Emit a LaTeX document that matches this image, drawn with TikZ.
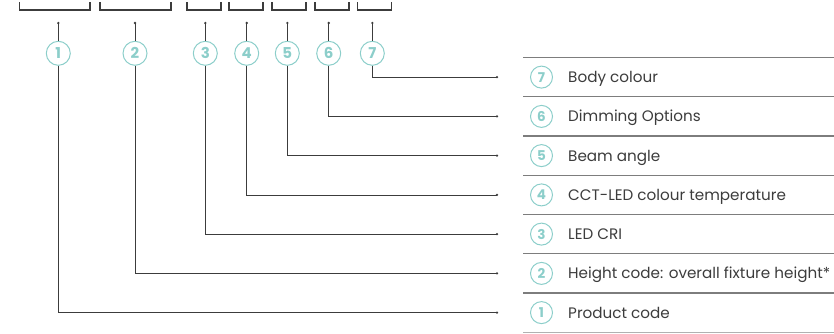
\documentclass[tikz,border=0pt]{standalone}
\usepackage{fontspec}
\setmainfont{Poppins}
\usetikzlibrary{positioning}
\definecolor{keyteal}{RGB}{140,206,202}
\definecolor{keytext}{RGB}{60,60,60}
\definecolor{rulegray}{RGB}{125,125,125}
\tikzstyle{keynum} = [circle, draw=keyteal, line width=1pt,
                      minimum size=24pt, inner sep=0pt, text=keyteal,
                      font=\fontsize{15}{15}\selectfont\bfseries]
\tikzstyle{rownum} = [keynum, minimum size=22pt,
                      font=\fontsize{13.5}{13.5}\selectfont\bfseries]
\tikzstyle{rowtext} = [anchor=base west, inner sep=0pt, text=keytext,
                       font=\fontsize{15.2}{15.2}\selectfont]
\tikzstyle{wire} = [line width=0.8pt, draw=keytext]
\tikzstyle{bracket} = [line width=1.1pt, draw=keytext]
\tikzstyle{rowline} = [line width=1.2pt, draw=rulegray]

\begin{document}
\begin{tikzpicture}[x=1pt, y=-1pt]
    \useasboundingbox (0,0) rectangle (834,333);

    %Code brackets
    \draw [bracket] (19.5,2) -- (19.5,10) -- (90,10) -- (90,2);
    \draw [bracket] (100,2) -- (100,10) -- (171,10) -- (171,2);
    \draw [bracket] (187,2) -- (187,10) -- (221,10) -- (221,2);
    \draw [bracket] (229,2) -- (229,10) -- (263,10) -- (263,2);
    \draw [bracket] (272,2) -- (272,10) -- (306,10) -- (306,2);
    \draw [bracket] (315,2) -- (315,10) -- (349,10) -- (349,2);
    \draw [bracket] (357.5,2) -- (357.5,10) -- (391.5,10) -- (391.5,2);

    %Key numbers
    \node (K1) [keynum] at (58.3,53.3) {1};
    \node (K2) [keynum] at (135,53.3) {2};
    \node (K3) [keynum] at (205.3,53.3) {3};
    \node (K4) [keynum] at (246.7,53.3) {4};
    \node (K5) [keynum] at (287.3,53.3) {5};
    \node (K6) [keynum] at (328.7,53.3) {6};
    \node (K7) [keynum] at (372.3,53.3) {7};

    %Dots under the brackets
    \coordinate (D1) at (58.3,23);
    \coordinate (D2) at (135,23);
    \coordinate (D3) at (205.3,23);
    \coordinate (D4) at (246.7,23);
    \coordinate (D5) at (287.3,23);
    \coordinate (D6) at (328.7,23);
    \coordinate (D7) at (372.3,23);

    %Line ends beside the table
    \coordinate (E7) at (497,77.1);
    \coordinate (E6) at (497,116.4);
    \coordinate (E5) at (497,155.6);
    \coordinate (E4) at (497,194.9);
    \coordinate (E3) at (497,234.1);
    \coordinate (E2) at (497,273.4);
    \coordinate (E1) at (497,312.6);

    %Lines from brackets to key numbers
    \draw [wire] (D1) -- (K1);
    \draw [wire] (D2) -- (K2);
    \draw [wire] (D3) -- (K3);
    \draw [wire] (D4) -- (K4);
    \draw [wire] (D5) -- (K5);
    \draw [wire] (D6) -- (K6);
    \draw [wire] (D7) -- (K7);

    %Lines from key numbers to the table
    \draw [wire] (K1) |- (E1);
    \draw [wire] (K2) |- (E2);
    \draw [wire] (K3) |- (E3);
    \draw [wire] (K4) |- (E4);
    \draw [wire] (K5) |- (E5);
    \draw [wire] (K6) |- (E6);
    \draw [wire] (K7) |- (E7);

    \fill [keytext] (D1) circle (1.3) (D2) circle (1.3) (D3) circle (1.3)
        (D4) circle (1.3) (D5) circle (1.3) (D6) circle (1.3) (D7) circle (1.3);
    \fill [keytext] (E1) circle (1.3) (E2) circle (1.3) (E3) circle (1.3)
        (E4) circle (1.3) (E5) circle (1.3) (E6) circle (1.3) (E7) circle (1.3);

    %Table rules
    \draw [rowline] (523,57.5) -- (834,57.5);
    \draw [rowline] (523,96.8) -- (834,96.8);
    \draw [rowline] (523,136) -- (834,136);
    \draw [rowline] (523,175.3) -- (834,175.3);
    \draw [rowline] (523,214.5) -- (834,214.5);
    \draw [rowline] (523,253.8) -- (834,253.8);
    \draw [rowline] (523,293) -- (834,293);
    \draw [rowline, draw=rulegray!60] (523,332.3) -- (834,332.3);

    %Table rows
    \node (R7) [rownum] at (541.5,77.1) {7};
    \node (R6) [rownum] at (541.5,116.4) {6};
    \node (R5) [rownum] at (541.5,155.6) {5};
    \node (R4) [rownum] at (541.5,194.9) {4};
    \node (R3) [rownum] at (541.5,234.1) {3};
    \node (R2) [rownum] at (541.5,273.4) {2};
    \node (R1) [rownum] at (541.5,312.6) {1};

    \node (T7) [rowtext] at (568,82.5) {Body colour};
    \node (T6) [rowtext] at (568,121.8) {Dimming Options};
    \node (T5) [rowtext] at (568,161) {Beam angle};
    \node (T4) [rowtext] at (568,200.3) {CCT-LED colour temperature};
    \node (T3) [rowtext] at (568,239.5) {LED CRI};
    \node (T2) [rowtext] at (568,278.8) {Height code: overall fixture height*};
    \node (T1) [rowtext] at (568,318) {Product code};

\end{tikzpicture}
\end{document}
